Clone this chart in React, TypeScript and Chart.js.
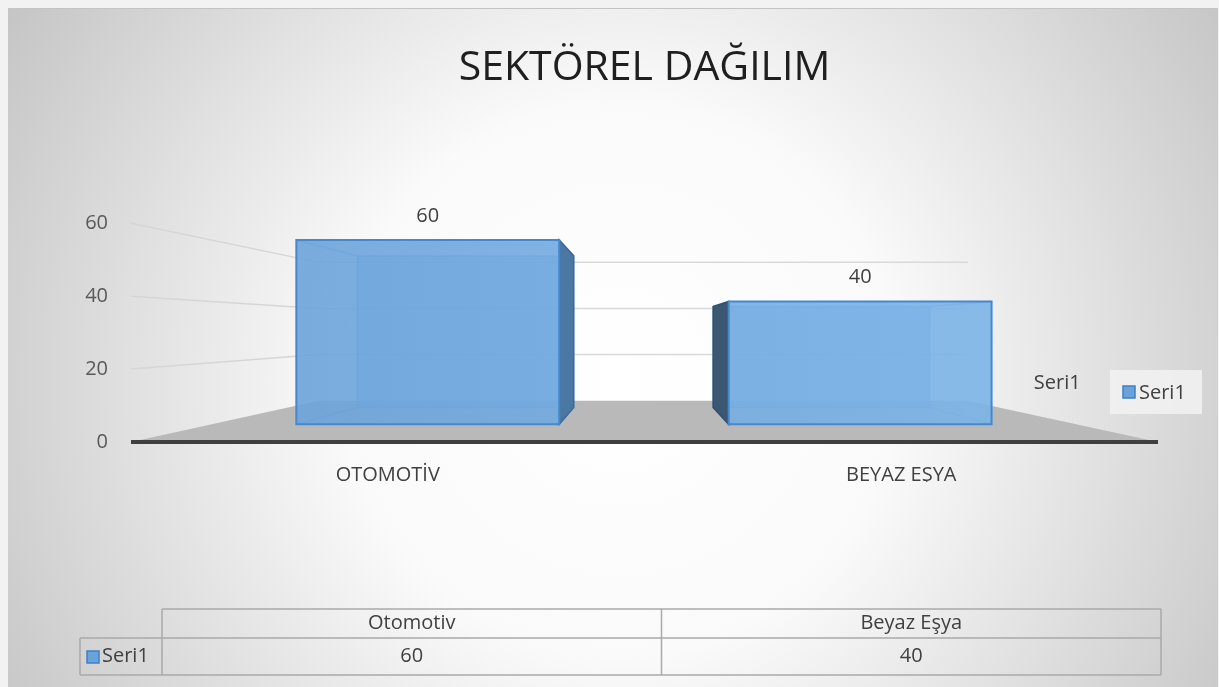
import { useEffect, useRef } from 'react';
import { Chart, registerables } from 'chart.js';

Chart.register(...registerables);

// ---------- data ----------
const chartTitle = 'SEKTÖREL DAĞILIM';
const axisLabels = ['OTOMOTİV', 'BEYAZ EŞYA'];
const tableLabels = ['Otomotiv', 'Beyaz Eşya'];
const seriesName = 'Seri1';
const seriesValues = [60, 40];
const yTickValues = [0, 20, 40, 60];

// ---------- style / perspective constants ----------
const W = 1219;
const H = 687;
const FONT = '"Open Sans", "Noto Sans", sans-serif';
const VP_X = 0.4966; // vanishing point as fraction of chart area
const VP_Y = 0.4865;
const K_FRONT = 0.842; // depth scale of bar front face
const K_BACK = 0.693; // depth scale of bar back face
const K_WALL = 0.632; // depth scale of back wall

type Area = { left: number; right: number; top: number; bottom: number; width: number; height: number };

function proj(a: Area, x: number, y: number, k: number): [number, number] {
  const vx = a.left + VP_X * a.width;
  const vy = a.top + VP_Y * a.height;
  return [vx + (x - vx) * k, vy + (y - vy) * k];
}

function poly(ctx: CanvasRenderingContext2D, pts: [number, number][], fill?: any, stroke?: string, lw = 1) {
  ctx.beginPath();
  pts.forEach((p, i) => (i === 0 ? ctx.moveTo(p[0], p[1]) : ctx.lineTo(p[0], p[1])));
  ctx.closePath();
  if (fill) {
    ctx.fillStyle = fill;
    ctx.fill();
  }
  if (stroke) {
    ctx.strokeStyle = stroke;
    ctx.lineWidth = lw;
    ctx.stroke();
  }
}

function line(ctx: CanvasRenderingContext2D, a: [number, number], b: [number, number], color: string, lw: number) {
  ctx.beginPath();
  ctx.moveTo(a[0], a[1]);
  ctx.lineTo(b[0], b[1]);
  ctx.strokeStyle = color;
  ctx.lineWidth = lw;
  ctx.stroke();
}

const backgroundPlugin = {
  id: 'bg3d',
  beforeDraw(chart: any) {
    const ctx: CanvasRenderingContext2D = chart.ctx;
    ctx.save();
    ctx.fillStyle = '#f2f2f2';
    ctx.fillRect(0, 0, W, H);
    const g = ctx.createRadialGradient(620, 380, 0, 620, 380, 790);
    g.addColorStop(0, '#ffffff');
    g.addColorStop(0.35, '#fafafa');
    g.addColorStop(1, '#bcbcbc');
    ctx.fillStyle = g;
    ctx.fillRect(8, 8, W - 9, H - 8);
    ctx.fillStyle = '#c4c4c4';
    ctx.fillRect(8, 8, W - 9, 1);
    ctx.restore();
  },
  beforeDatasetsDraw(chart: any) {
    const ctx: CanvasRenderingContext2D = chart.ctx;
    const a: Area = chart.chartArea;
    const ys = chart.scales.y;
    ctx.save();
    // floor
    poly(
      ctx,
      [
        [a.left, a.bottom],
        [a.right, a.bottom],
        proj(a, a.right, a.bottom, K_WALL),
        proj(a, a.left, a.bottom, K_WALL),
      ],
      '#b9b9b9'
    );
    // gridlines on left wall and back wall
    ys.ticks.forEach((t: any) => {
      if (t.value === 0) return;
      const y = ys.getPixelForValue(t.value);
      const bl = proj(a, a.left, y, K_WALL);
      const br = proj(a, a.right, y, K_WALL);
      line(ctx, [a.left, y], bl, '#d6d6d6', 1.5);
      line(ctx, bl, br, '#d9d9d9', 1.5);
    });
    // front floor edge
    line(ctx, [a.left, a.bottom], [a.right, a.bottom], '#3f3f3f', 4);
    ctx.restore();
  },
  afterDatasetsDraw(chart: any) {
    const ctx: CanvasRenderingContext2D = chart.ctx;
    const a: Area = chart.chartArea;
    const vx = a.left + VP_X * a.width;
    const meta = chart.getDatasetMeta(0);
    const frontGrad = ctx.createLinearGradient(a.left, 0, a.right, 0);
    frontGrad.addColorStop(0, 'rgba(104,160,216,0.9)');
    frontGrad.addColorStop(1, 'rgba(128,184,234,0.9)');
    ctx.save();
    meta.data.forEach((el: any, i: number) => {
      const { x, y, base, width } = el.getProps(['x', 'y', 'base', 'width'], true);
      const l = x - width / 2;
      const r = x + width / 2;
      const F = (px: number, py: number) => proj(a, px, py, K_FRONT);
      const B = (px: number, py: number) => proj(a, px, py, K_BACK);
      // back face
      poly(ctx, [B(l, y), B(r, y), B(r, base), B(l, base)], 'rgba(100,160,218,0.55)', 'rgba(70,136,204,0.55)', 1.5);
      // depth edges
      line(ctx, F(l, y), B(l, y), 'rgba(70,136,204,0.55)', 1.5);
      line(ctx, F(r, y), B(r, y), 'rgba(70,136,204,0.55)', 1.5);
      line(ctx, F(l, base), B(l, base), 'rgba(70,136,204,0.55)', 1.5);
      line(ctx, F(r, base), B(r, base), 'rgba(70,136,204,0.55)', 1.5);
      // visible side face
      const rightSide = x < vx;
      const sx = rightSide ? r : l;
      poly(ctx, [F(sx, y), B(sx, y), B(sx, base), F(sx, base)], rightSide ? '#4b77a3' : '#3c5772', rightSide ? '#3f6a96' : '#34506b', 1.5);
      // front face
      const tl = F(l, y);
      const brp = F(r, base);
      poly(ctx, [tl, [brp[0], tl[1]], brp, [tl[0], brp[1]]], frontGrad, '#4588cf', 2);
      // data label
      const top = F(x, y);
      ctx.fillStyle = '#404040';
      ctx.font = `20px ${FONT}`;
      ctx.textAlign = 'center';
      ctx.textBaseline = 'middle';
      ctx.fillText(String(seriesValues[i]), top[0], top[1] - 24);
    });
    // series (depth) axis label
    const sp = proj(a, a.right, a.bottom, (K_FRONT + K_BACK) / 2);
    ctx.fillStyle = '#404040';
    ctx.font = `20px ${FONT}`;
    ctx.textAlign = 'left';
    ctx.textBaseline = 'middle';
    ctx.fillText(seriesName, sp[0] - 4, sp[1] - 33);
    ctx.restore();
  },
  afterDraw(chart: any) {
    const ctx: CanvasRenderingContext2D = chart.ctx;
    ctx.save();
    // legend
    ctx.fillStyle = 'rgba(242,242,242,0.85)';
    ctx.fillRect(1110, 370, 92, 44);
    ctx.fillStyle = '#6aa3da';
    ctx.fillRect(1123, 386, 12, 12);
    ctx.strokeStyle = '#3f7fc4';
    ctx.lineWidth = 1.5;
    ctx.strokeRect(1123, 386, 12, 12);
    ctx.fillStyle = '#404040';
    ctx.font = `20px ${FONT}`;
    ctx.textAlign = 'left';
    ctx.textBaseline = 'middle';
    ctx.fillText(seriesName, 1139, 393);

    // data table
    const tL = 162, tR = 1161, t0 = 609, t1 = 638, t2 = 675, labL = 80;
    const colW = (tR - tL) / tableLabels.length;
    ctx.strokeStyle = '#a9a9a9';
    ctx.lineWidth = 1.5;
    ctx.beginPath();
    ctx.moveTo(tL, t0); ctx.lineTo(tR, t0);
    ctx.moveTo(labL, t1); ctx.lineTo(tR, t1);
    ctx.moveTo(labL, t2); ctx.lineTo(tR, t2);
    ctx.moveTo(labL, t1); ctx.lineTo(labL, t2);
    for (let i = 0; i <= tableLabels.length; i++) {
      const xx = tL + colW * i;
      ctx.moveTo(xx, t0); ctx.lineTo(xx, t2);
    }
    ctx.stroke();
    ctx.fillStyle = '#404040';
    ctx.font = `20px ${FONT}`;
    ctx.textAlign = 'center';
    tableLabels.forEach((lab, i) => {
      ctx.fillText(lab, tL + colW * (i + 0.5), (t0 + t1) / 2);
      ctx.fillText(String(seriesValues[i]), tL + colW * (i + 0.5), (t1 + t2) / 2);
    });
    // row key
    ctx.fillStyle = '#6aa3da';
    ctx.fillRect(87, 651, 12, 12);
    ctx.strokeStyle = '#3f7fc4';
    ctx.strokeRect(87, 651, 12, 12);
    ctx.fillStyle = '#404040';
    ctx.textAlign = 'left';
    ctx.fillText(seriesName, 102, (t1 + t2) / 2);
    ctx.restore();
  },
};

export default function App() {
  const ref = useRef<HTMLCanvasElement | null>(null);
  useEffect(() => {
    document.body.style.margin = '0';
    const canvas = ref.current;
    if (!canvas) return;
    const chart = new Chart(canvas, {
      type: 'bar',
      data: {
        labels: axisLabels,
        datasets: [
          {
            label: seriesName,
            data: seriesValues,
            backgroundColor: 'rgba(0,0,0,0)',
            borderWidth: 0,
            categoryPercentage: 1,
            barPercentage: 0.608,
          },
        ],
      },
      options: {
        animation: false,
        responsive: false,
        devicePixelRatio: 1,
        layout: { padding: { left: 0, right: 61, top: 0, bottom: 205 } },
        plugins: {
          legend: { display: false },
          tooltip: { enabled: false },
          title: {
            display: true,
            text: chartTitle,
            fullSize: false,
            color: '#1f1f1f',
            font: { family: FONT, size: 41, weight: 'normal' },
            padding: { top: 44, bottom: 130 },
          },
        },
        scales: {
          x: {
            grid: { display: false, drawTicks: false },
            border: { display: false },
            ticks: { color: '#404040', font: { family: FONT, size: 20 }, padding: 21, maxRotation: 0 },
            afterFit: (s: any) => {
              s.height = 40;
            },
          },
          y: {
            min: 0,
            max: 60,
            afterBuildTicks: (s: any) => {
              s.ticks = yTickValues.map((v) => ({ value: v }));
            },
            grid: { display: false, drawTicks: false },
            border: { display: false },
            ticks: { color: '#595959', font: { family: FONT, size: 20 }, padding: 23 },
            afterFit: (s: any) => {
              s.width = 131;
            },
          },
        },
      },
      plugins: [backgroundPlugin],
    });
    return () => chart.destroy();
  }, []);
  return (
    <div style={{ width: W, height: H }}>
      <canvas ref={ref} width={W} height={H} style={{ display: 'block', width: W, height: H }} />
    </div>
  );
}
